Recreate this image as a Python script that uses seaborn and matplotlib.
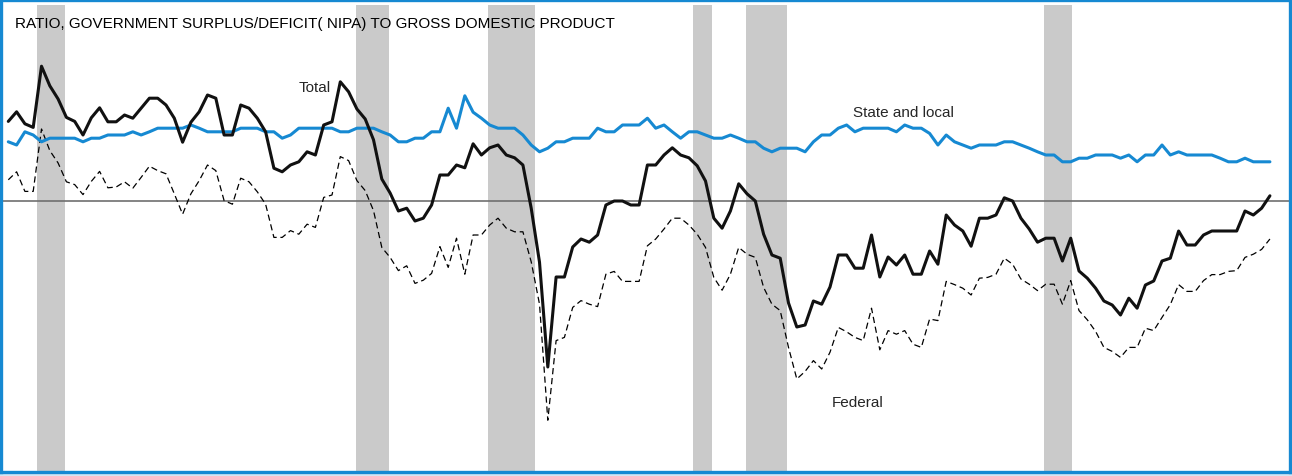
import numpy as np
import pandas as pd
import matplotlib
matplotlib.use("Agg")
import matplotlib.pyplot as plt
from matplotlib import font_manager
import seaborn as sns

# quarterly ratios to GDP, percent, 1959Q2 - 1997Q2
quarters = pd.period_range("1959Q2", periods=153, freq="Q")

total = [
    1.99, 2.23, 1.93, 1.84, 3.37, 2.88, 2.55, 2.09, 1.99, 1.65,
    2.08, 2.33, 1.98, 1.98, 2.15, 2.07, 2.32, 2.57, 2.57, 2.40,
    2.07, 1.47, 1.97, 2.23, 2.65, 2.57, 1.65, 1.65, 2.40, 2.32,
    2.07, 1.73, 0.82, 0.73, 0.90, 0.98, 1.23, 1.15, 1.90, 1.98,
    2.98, 2.73, 2.30, 2.05, 1.53, 0.55, 0.20, -0.25, -0.18, -0.50,
    -0.43, -0.10, 0.65, 0.65, 0.90, 0.83, 1.43, 1.15, 1.33, 1.40,
    1.15, 1.08, 0.90, -0.18, -1.53, -4.15, -1.90, -1.90, -1.15, -0.95,
    -1.03, -0.85, -0.10, 0.00, 0.00, -0.10, -0.10, 0.90, 0.90, 1.15,
    1.33, 1.15, 1.08, 0.88, 0.50, -0.43, -0.68, -0.25, 0.43, 0.18,
    0.00, -0.83, -1.35, -1.43, -2.55, -3.15, -3.10, -2.50, -2.58, -2.15,
    -1.35, -1.35, -1.68, -1.68, -0.85, -1.90, -1.40, -1.60, -1.35, -1.83,
    -1.83, -1.25, -1.58, -0.35, -0.60, -0.75, -1.13, -0.43, -0.43, -0.35,
    0.08, 0.00, -0.43, -0.70, -1.03, -0.93, -0.93, -1.50, -0.93, -1.75,
    -1.93, -2.18, -2.50, -2.60, -2.85, -2.43, -2.68, -2.10, -2.00, -1.50,
    -1.43, -0.75, -1.10, -1.10, -0.85, -0.75, -0.75, -0.75, -0.75, -0.25,
    -0.35, -0.18, 0.13,
]

state_local = [
    1.48, 1.40, 1.73, 1.65, 1.48, 1.57, 1.57, 1.57, 1.57, 1.48,
    1.57, 1.57, 1.65, 1.65, 1.65, 1.73, 1.65, 1.73, 1.82, 1.82,
    1.82, 1.82, 1.90, 1.82, 1.73, 1.73, 1.73, 1.73, 1.82, 1.82,
    1.82, 1.73, 1.73, 1.57, 1.65, 1.82, 1.82, 1.82, 1.82, 1.82,
    1.73, 1.73, 1.82, 1.82, 1.82, 1.73, 1.65, 1.48, 1.48, 1.57,
    1.57, 1.73, 1.73, 2.32, 1.82, 2.63, 2.22, 2.07, 1.90, 1.82,
    1.82, 1.82, 1.65, 1.40, 1.23, 1.32, 1.48, 1.48, 1.57, 1.57,
    1.57, 1.82, 1.73, 1.73, 1.90, 1.90, 1.90, 2.07, 1.82, 1.90,
    1.73, 1.57, 1.73, 1.73, 1.65, 1.57, 1.57, 1.65, 1.57, 1.48,
    1.48, 1.32, 1.23, 1.32, 1.32, 1.32, 1.23, 1.48, 1.65, 1.65,
    1.82, 1.90, 1.73, 1.82, 1.82, 1.82, 1.82, 1.73, 1.90, 1.82,
    1.82, 1.69, 1.40, 1.65, 1.48, 1.40, 1.32, 1.40, 1.40, 1.40,
    1.48, 1.48, 1.40, 1.32, 1.23, 1.15, 1.15, 0.98, 0.98, 1.07,
    1.07, 1.15, 1.15, 1.15, 1.07, 1.15, 0.98, 1.15, 1.15, 1.40,
    1.15, 1.23, 1.15, 1.15, 1.15, 1.15, 1.07, 0.98, 0.98, 1.07,
    0.98, 0.98, 0.98,
]

federal = [
    0.53, 0.73, 0.24, 0.24, 1.80, 1.26, 0.95, 0.48, 0.41, 0.16,
    0.49, 0.74, 0.33, 0.35, 0.48, 0.32, 0.59, 0.87, 0.76, 0.68,
    0.18, -0.33, 0.18, 0.51, 0.90, 0.76, 0.01, -0.08, 0.57, 0.48,
    0.23, -0.08, -0.91, -0.91, -0.74, -0.83, -0.58, -0.66, 0.09, 0.15,
    1.11, 1.01, 0.51, 0.26, -0.24, -1.16, -1.41, -1.74, -1.62, -2.06,
    -1.98, -1.81, -1.14, -1.66, -0.93, -1.83, -0.85, -0.85, -0.60, -0.43,
    -0.68, -0.77, -0.77, -1.52, -2.58, -5.48, -3.49, -3.41, -2.66, -2.49,
    -2.58, -2.64, -1.83, -1.76, -2.01, -2.01, -2.01, -1.12, -0.95, -0.70,
    -0.43, -0.43, -0.60, -0.83, -1.16, -1.91, -2.23, -1.83, -1.16, -1.33,
    -1.41, -2.16, -2.58, -2.74, -3.66, -4.45, -4.26, -3.99, -4.20, -3.78,
    -3.16, -3.27, -3.41, -3.49, -2.68, -3.72, -3.24, -3.33, -3.24, -3.58,
    -3.66, -2.95, -2.99, -2.01, -2.09, -2.18, -2.35, -1.93, -1.91, -1.83,
    -1.43, -1.58, -1.95, -2.08, -2.24, -2.08, -2.08, -2.58, -1.99, -2.74,
    -2.97, -3.26, -3.66, -3.76, -3.91, -3.66, -3.66, -3.18, -3.24, -2.91,
    -2.59, -2.09, -2.26, -2.26, -1.99, -1.84, -1.84, -1.76, -1.74, -1.41,
    -1.33, -1.21, -0.95,
]

# recessions (peak month, trough month)
recessions = [
    ("1960-04", "1961-02"), ("1969-11", "1970-11"), ("1973-11", "1975-04"),
    ("1980-01", "1980-08"), ("1981-08", "1982-11"), ("1990-08", "1991-06"),
]

title = "RATIO, GOVERNMENT SURPLUS/DEFICIT( NIPA) TO GROSS DOMESTIC PRODUCT"


def dec_year(s):
    y, m = s.split("-")
    return int(y) + (int(m) - 1) / 12


df = pd.DataFrame({
    "t": quarters.year + (quarters.quarter - 1) / 4 + 0.125,
    "Total": total,
    "State and local": state_local,
    "Federal": federal,
})

sns.set_style("white")
names = {f.name for f in font_manager.fontManager.ttflist}
fam = "Liberation Sans Narrow" if "Liberation Sans Narrow" in names else "Liberation Sans"
plt.rcParams["font.family"] = [fam, "DejaVu Sans"]
fsize = 12.7 if fam == "Liberation Sans Narrow" else 10.95

fig = plt.figure(figsize=(12.92, 4.77), dpi=100, facecolor="#d3e6f4")
ax = fig.add_axes([1 / 1292, 4 / 477, 1289 / 1292, 472 / 477])
ax.set_facecolor("white")

for a, b in recessions:
    ax.axvspan(dec_year(a), dec_year(b), ymin=0, ymax=0.99, color="#cacaca", lw=0, zorder=1)

ax.axhline(0, color="#6f6f6f", lw=1.2, zorder=2)

sns.lineplot(data=df, x="t", y="Federal", ax=ax, color="black", lw=0.9,
             linestyle=(0, (5, 3)), zorder=3)
sns.lineplot(data=df, x="t", y="State and local", ax=ax, color="#1689d2", lw=2.2, zorder=4)
sns.lineplot(data=df, x="t", y="Total", ax=ax, color="#111111", lw=2.2, zorder=5)

ax.set_xlim(1959.155, 1997.98)
ax.set_ylim(-6.775, 5.025)
ax.set_xticks([])
ax.set_yticks([])
ax.set_xlabel("")
ax.set_ylabel("")
for s in ax.spines.values():
    s.set_color("#1689d2")
    s.set_linewidth(2.4)
    s.set_visible(True)

ax.text(0.0109, 0.951, title, transform=ax.transAxes, fontsize=fsize,
        ha="left", va="center", color="black")
ax.text(1968.13, 2.85, "Total", fontsize=fsize, ha="left", va="center")
ax.text(1984.82, 2.22, "State and local", fontsize=fsize, ha="left", va="center")
ax.text(1984.19, -5.03, "Federal", fontsize=fsize, ha="left", va="center")

fig.savefig("out.png", dpi=100, facecolor=fig.get_facecolor())
